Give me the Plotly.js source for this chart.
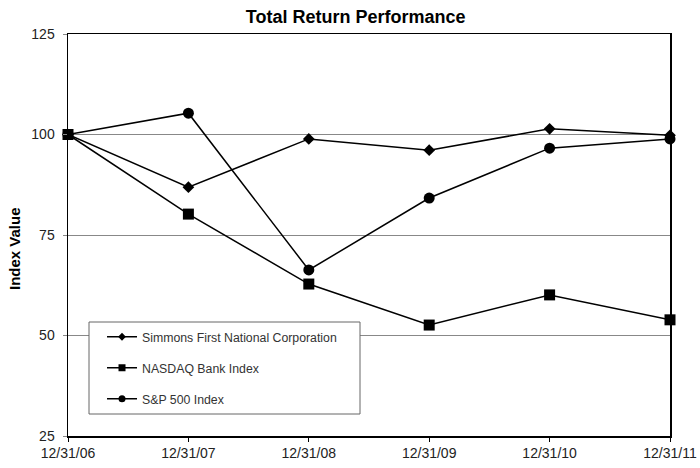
<!DOCTYPE html>
<html>
<head>
<meta charset="utf-8">
<script src="https://cdn.plot.ly/plotly-3.0.1.min.js"></script>
<style>html,body{margin:0;padding:0;background:#fff;}#chart{width:700px;height:468px;}</style>
</head>
<body>
<div id="chart"></div>
<script>
const dates = ["12/31/06", "12/31/07", "12/31/08", "12/31/09", "12/31/10", "12/31/11"];
const simmons = [100, 86.9, 98.9, 96.1, 101.4, 99.8];
const nasdaqBank = [100, 80.2, 62.8, 52.6, 60.1, 53.9];
const sp500 = [100, 105.3, 66.3, 84.2, 96.6, 98.9];
const seriesNames = ["Simmons First National Corporation", "NASDAQ Bank Index", "S&P 500 Index"];
const yTicks = [25, 50, 75, 100, 125];

const idx = dates.map((d, i) => i);
const lineStyle = {color: "#000", width: 1.5};
const symbols = ["diamond", "square", "circle"];
const plotSizes = [9, 11, 11];
const legendSizes = [6, 7, 7];
const seriesData = [simmons, nasdaqBank, sp500];
const groups = ["a", "b", "c"];

const traces = [];
seriesData.forEach((ys, k) => {
  traces.push({x: idx, y: ys, mode: "lines+markers", cliponaxis: false, line: lineStyle,
    name: seriesNames[k], legendgroup: groups[k], showlegend: false,
    marker: {symbol: symbols[k], size: plotSizes[k], color: "#000"}});
});
seriesData.forEach((ys, k) => {
  traces.push({x: [null], y: [null], mode: "lines+markers", line: lineStyle,
    name: seriesNames[k], legendgroup: groups[k], showlegend: true,
    marker: {symbol: symbols[k], size: legendSizes[k], color: "#000"}});
});

const layout = {
  width: 700, height: 468,
  margin: {l: 68, r: 30, t: 34, b: 32},
  paper_bgcolor: "#fff", plot_bgcolor: "#fff",
  font: {family: "Liberation Sans, Arial, sans-serif", color: "#222", size: 14},
  title: {text: "<b>Total Return Performance</b>", font: {size: 18, color: "#000"}, x: 0.508, xanchor: "center", y: 0.965, yanchor: "middle"},
  showlegend: true,
  legend: {x: 0.0565, y: 0.283, xanchor: "left", yanchor: "top", borderwidth: 0, bgcolor: "rgba(0,0,0,0)",
           traceorder: "grouped", tracegroupgap: 12, font: {size: 12.3, color: "#333"}, itemwidth: 30},
  shapes: [{type: "rect", xref: "paper", yref: "paper", x0: (89 - 68) / 602, x1: (360 - 68) / 602,
            y0: (436 - 414) / 402, y1: (436 - 322) / 402, line: {color: "#666", width: 1}, fillcolor: "#fff", layer: "above"}],
  annotations: [{text: "<b>Index Value</b>", xref: "paper", yref: "paper", x: (15 - 68) / 602, y: (436 - 249) / 402,
                 xanchor: "center", yanchor: "middle", textangle: -90, showarrow: false, font: {size: 15, color: "#000"}}],
  xaxis: {range: [0, 5], tickvals: idx, ticktext: dates, showgrid: false, zeroline: false,
          showline: true, linecolor: "#000", linewidth: 1.5, mirror: true,
          ticks: "outside", ticklen: 4, tickcolor: "#000", tickfont: {size: 14, color: "#222"}},
  yaxis: {range: [25, 125], tickvals: yTicks, showgrid: true, gridcolor: "#888", gridwidth: 1,
          zeroline: false, showline: true, linecolor: "#000", linewidth: 1.5, mirror: true,
          ticks: "outside", ticklen: 4, tickcolor: "#888", ticklabelstandoff: 5, tickfont: {size: 14, color: "#222"}}
};
Plotly.newPlot("chart", traces, layout, {displayModeBar: false, staticPlot: true});
</script>
</body>
</html>
